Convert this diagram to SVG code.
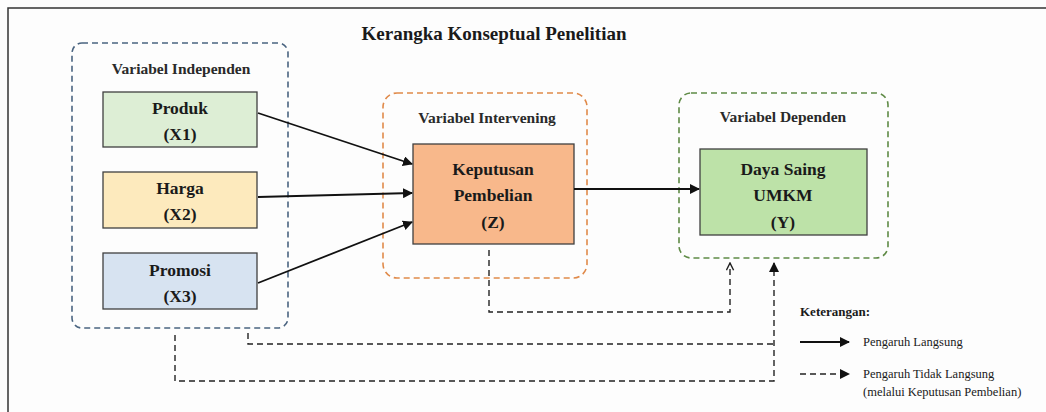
<svg xmlns="http://www.w3.org/2000/svg" width="1046" height="412" viewBox="0 0 1046 412">
<defs>
<style>
text{font-family:"Liberation Serif","Times New Roman",serif;fill:#1a1a1a}
.t{font-size:19px;font-weight:bold;text-anchor:middle}
.g{font-size:15.5px;font-weight:bold;text-anchor:middle;fill:#2a2a2a}
.n{font-size:17.5px;font-weight:bold;text-anchor:middle}
.box{stroke:#404040;stroke-width:1.3}
.grp{fill:none;stroke-width:1.6;stroke-dasharray:6 4}
.sol{fill:none;stroke:#111;stroke-width:1.8}
.dsh{fill:none;stroke:#222;stroke-width:1.4;stroke-dasharray:6 4}
.lg{font-size:12.5px}
</style>
<marker id="ah" viewBox="0 0 10 10" refX="9" refY="5" markerWidth="10" markerHeight="10" markerUnits="userSpaceOnUse" orient="auto"><path d="M0,0 L10,5 L0,10 z" fill="#111"/></marker>
<marker id="ao" viewBox="0 0 10 10" refX="9" refY="5" markerWidth="9" markerHeight="9" markerUnits="userSpaceOnUse" orient="auto"><path d="M1,1 L9,5 L1,9" fill="none" stroke="#222" stroke-width="1.6"/></marker>
</defs>
<rect x="0" y="0" width="1046" height="412" fill="#fdfdfd"/>
<rect x="8" y="8" width="1060" height="440" fill="#fdfdfd" stroke="#333" stroke-width="1.5"/>
<text class="t" x="494" y="40">Kerangka Konseptual Penelitian</text>

<g id="grp-independen">
<rect class="grp" x="72" y="43" width="216" height="285" rx="10" stroke="#4a6480"/>
<text class="g" x="181" y="74">Variabel Independen</text>
</g>
<g id="grp-intervening">
<rect class="grp" x="383" y="93" width="204" height="185" rx="14" stroke="#e08a4a"/>
<text class="g" x="487" y="123">Variabel Intervening</text>
</g>
<g id="grp-dependen">
<rect class="grp" x="679" y="93" width="209" height="165" rx="12" stroke="#5e8a45"/>
<text class="g" x="783" y="122">Variabel Dependen</text>
</g>

<g id="node-produk">
<rect class="box" x="103" y="92" width="154" height="55" fill="#ddeed5"/>
<text class="n" x="180" y="114">Produk</text>
<text class="n" x="180" y="140">(X1)</text>
</g>
<g id="node-harga">
<rect class="box" x="103" y="172" width="154" height="56" fill="#fdeabd"/>
<text class="n" x="180" y="194">Harga</text>
<text class="n" x="180" y="220">(X2)</text>
</g>
<g id="node-promosi">
<rect class="box" x="103" y="253" width="154" height="56" fill="#d7e3f1"/>
<text class="n" x="180" y="276">Promosi</text>
<text class="n" x="180" y="302">(X3)</text>
</g>
<g id="node-keputusan">
<rect class="box" x="413" y="144" width="161" height="100" fill="#f8b88b"/>
<text class="n" x="493" y="175">Keputusan</text>
<text class="n" x="493" y="201">Pembelian</text>
<text class="n" x="493" y="228">(Z)</text>
</g>
<g id="node-dayasaing">
<rect class="box" x="700" y="149" width="167" height="86" fill="#bde2a8"/>
<text class="n" x="783" y="175">Daya Saing</text>
<text class="n" x="783" y="201">UMKM</text>
<text class="n" x="783" y="228">(Y)</text>
</g>

<g id="connectors">
<line class="sol" x1="258" y1="113" x2="412" y2="164" marker-end="url(#ah)"/>
<line class="sol" x1="258" y1="197" x2="412" y2="193" marker-end="url(#ah)"/>
<line class="sol" x1="258" y1="283" x2="412" y2="222" marker-end="url(#ah)"/>
<line class="sol" x1="574" y1="189" x2="699" y2="189" marker-end="url(#ah)"/>
<path class="dsh" d="M489,250 V312 H730 V263" marker-end="url(#ao)"/>
<path class="dsh" d="M248,333 V344 H773"/>
<path class="dsh" d="M175,335 V381 H774 V263" marker-end="url(#ah)"/>
</g>

<g id="legend">
<text x="800" y="316" font-size="13" font-weight="bold">Keterangan:</text>
<line class="sol" x1="800" y1="342" x2="849" y2="342" marker-end="url(#ah)"/>
<text class="lg" x="863" y="346">Pengaruh Langsung</text>
<line class="dsh" x1="800" y1="374" x2="849" y2="374" marker-end="url(#ah)"/>
<text class="lg" x="863" y="378">Pengaruh Tidak Langsung</text>
<text class="lg" x="863" y="396">(melalui Keputusan Pembelian)</text>
</g>
</svg>
